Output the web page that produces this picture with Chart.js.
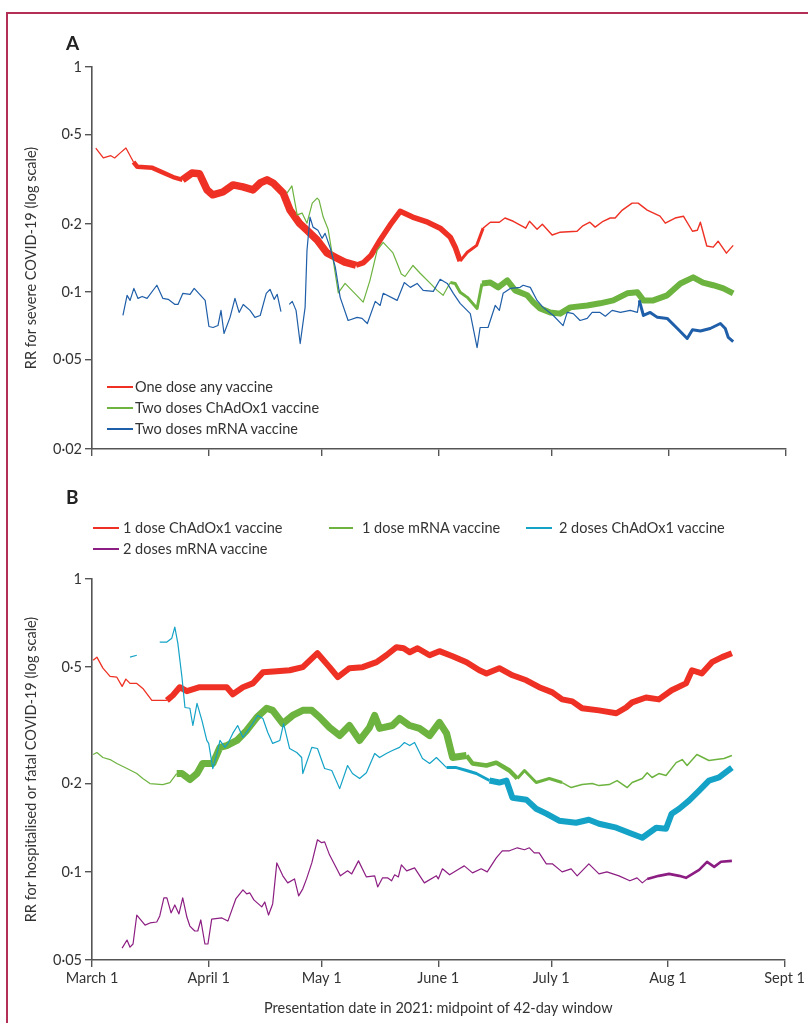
<!DOCTYPE html>
<html>
<head>
<meta charset="utf-8">
<script src="https://cdn.jsdelivr.net/npm/chart.js@4.4.1/dist/chart.umd.min.js"></script>
<style>
  html, body { margin:0; padding:0; background:#fff; }
  body { width:808px; height:1023px; position:relative; overflow:hidden; font-family:Lato, "Open Sans", sans-serif; color:#333; }
  #frame { position:absolute; left:6px; top:12px; width:820px; height:1040px; border-top:2px solid #b32f56; border-left:2px solid #b32f56; }
  canvas { position:absolute; left:0; }
  .panel { position:absolute; font-weight:bold; font-size:19px; color:#222; line-height:20px; }
  .leg { position:absolute; font-size:14.5px; line-height:20px; white-space:nowrap; color:#333; }
  .sw { position:absolute; height:2px; }
</style>
</head>
<body>
<div id="frame"></div>
<canvas id="cA" width="808" height="480" style="top:0"></canvas>
<canvas id="cB" width="808" height="543" style="top:480px"></canvas>

<div class="panel" style="left:66px;top:33px">A</div>
<div class="panel" style="left:66px;top:487px">B</div>

<div class="sw" style="left:107px;top:386px;width:26px;background:#ee3124"></div>
<div class="leg" style="left:135px;top:377px">One dose any vaccine</div>
<div class="sw" style="left:107px;top:407px;width:26px;background:#6db33f"></div>
<div class="leg" style="left:135px;top:398px">Two doses ChAdOx1 vaccine</div>
<div class="sw" style="left:107px;top:428px;width:26px;background:#1f5ea8"></div>
<div class="leg" style="left:135px;top:419px">Two doses mRNA vaccine</div>

<div class="sw" style="left:93px;top:527px;width:26px;background:#ee3124"></div>
<div class="leg" style="left:123px;top:518px">1 dose ChAdOx1 vaccine</div>
<div class="sw" style="left:329px;top:527px;width:24px;background:#6db33f"></div>
<div class="leg" style="left:362px;top:518px">1 dose mRNA vaccine</div>
<div class="sw" style="left:526px;top:527px;width:26px;background:#14a3c7"></div>
<div class="leg" style="left:559px;top:518px">2 doses ChAdOx1 vaccine</div>
<div class="sw" style="left:93px;top:548px;width:26px;background:#8c1d82"></div>
<div class="leg" style="left:123px;top:539px">2 doses mRNA vaccine</div>

<script>
// ---------- DATA (x = days since March 1, 2021; y = rate ratio) ----------
const monthTickDays = [0, 31, 61, 92, 122, 153, 184];
const monthTickLabels = ["March 1", "April 1", "May 1", "June 1", "July 1", "Aug 1", "Sept 1"];
const ticksA = [0.02, 0.05, 0.1, 0.2, 0.5, 1];
const ticksB = [0.05, 0.1, 0.2, 0.5, 1];

// Panel A: severe COVID-19
const oneDoseAny = [[1,0.436],[3,0.394],[5,0.403],[6,0.394],[7.5,0.415],[9,0.436],[11,0.378],[12,0.36],[14,0.358],[16,0.356],[19,0.338],[21.5,0.324],[24,0.315],[26.5,0.338],[28.5,0.335],[30.5,0.284],[32,0.27],[34.7,0.278],[37.4,0.299],[40,0.293],[42.7,0.284],[44.6,0.305],[46.4,0.315],[48,0.305],[50.7,0.275],[52.5,0.231],[55,0.202],[57,0.188],[59.7,0.17],[62.3,0.149],[65,0.141],[67,0.1355],[70,0.1313],[72,0.135],[74,0.1455],[76.4,0.17],[79,0.198],[81.7,0.228],[85,0.215],[89,0.204],[92.3,0.192],[95,0.175],[96.3,0.158],[97.6,0.137],[99.5,0.15],[102,0.161],[103.7,0.192],[105.6,0.204],[108,0.204],[109.5,0.213],[111.7,0.206],[115,0.192],[116,0.206],[118,0.19],[119.4,0.2],[122,0.179],[124,0.184],[128.6,0.186],[130,0.196],[132,0.204],[133.4,0.194],[135.5,0.206],[137.4,0.213],[138.7,0.213],[140.6,0.231],[143.2,0.248],[144.8,0.248],[147.2,0.231],[150.6,0.217],[152,0.202],[154.6,0.213],[156.8,0.217],[159.2,0.186],[160.5,0.188],[161.3,0.204],[163,0.16],[164.7,0.158],[166,0.168],[168.2,0.1486],[170,0.161]];
const twoDosesChAdOx1A = [[51.7,0.275],[53,0.296],[54.4,0.22],[55.7,0.224],[57,0.202],[58.4,0.248],[59.7,0.261],[60.2,0.256],[61.3,0.215],[62.6,0.19],[63.9,0.14],[65.3,0.099],[67.1,0.109],[71.9,0.09],[73.7,0.1125],[75.6,0.153],[77.2,0.166],[79.8,0.149],[80.9,0.134],[82,0.12],[83,0.117],[85.1,0.131],[87,0.121],[89.7,0.109],[91.5,0.1015],[93.1,0.0965],[95,0.11],[96.3,0.109],[97.6,0.0995],[99.5,0.0945],[102.1,0.0844],[103.4,0.109],[105.6,0.11],[107.7,0.1047],[110.1,0.1125],[112.2,0.1015],[115.4,0.0965],[117,0.0898],[118.8,0.0844],[121.5,0.081],[124.1,0.08],[126.8,0.0853],[131.3,0.087],[134.7,0.0889],[138.2,0.0916],[141.9,0.0985],[144.6,0.0995],[146.2,0.0916],[148.8,0.0916],[152.5,0.0965],[156,0.109],[159.4,0.116],[162,0.11],[164.7,0.107],[167.4,0.1036],[170,0.0985]];
const twoDosesMRNAA = [[8.2,0.0785],[9.3,0.0965],[10.1,0.0916],[11.1,0.1036],[12.2,0.0935],[13.3,0.0954],[14.6,0.0935],[17.2,0.107],[18.8,0.0935],[20.2,0.0926],[22,0.0879],[22.8,0.0879],[24.1,0.0985],[26,0.0975],[27.1,0.1036],[30,0.0916],[31,0.0701],[32.1,0.0694],[33.4,0.0708],[34.2,0.0827],[35,0.0653],[36.6,0.077],[37.9,0.0935],[39,0.081],[40.1,0.0879],[41.9,0.0827],[43.2,0.077],[44.6,0.0785],[46.2,0.0985],[47.2,0.1026],[48.3,0.0926],[49.1,0.0975],[50.1,0.0817],[51.2,null],[52.3,0.0879],[53.1,0.0907],[54.1,0.0827],[55.2,0.0589],[56.5,0.0853],[57,0.153],[57.8,0.215],[58.6,0.194],[59.9,0.188],[61,0.173],[61.8,0.182],[63.1,0.158],[64.5,0.1287],[65.8,0.0945],[67.9,0.0746],[70.3,0.077],[71.6,0.0762],[73,0.0723],[75.1,0.0907],[76.4,0.087],[77.2,0.0985],[80.9,0.0916],[82.8,0.11],[84.4,0.1047],[86.2,0.109],[87.8,0.1015],[90.5,0.1005],[92.3,0.1137],[94.2,0.109],[95.8,0.0985],[97.6,0.0889],[100.3,0.08],[102.1,0.0565],[102.9,0.0694],[105,0.0694],[106.9,0.087],[108,0.0827],[109,0.0985],[110.9,0.1036],[113.5,0.1047],[114.3,0.107],[116.2,0.1047],[118,0.0916],[119.6,0.0853],[122.3,0.0785],[124.9,0.0708],[126,0.081],[127.6,0.08],[129.4,0.0746],[131.3,0.0762],[132.6,0.081],[134.7,0.081],[136.1,0.0779],[137.9,0.0827],[140.1,0.081],[142.7,0.0827],[144.6,0.081],[145.1,0.0916],[146.2,0.0785],[148,0.081],[149.9,0.077],[152.5,0.0762],[155.2,0.0687],[157.8,0.062],[159.2,0.0678],[161.3,0.067],[163.9,0.0687],[166.6,0.0723],[167.9,0.0687],[168.7,0.0627],[170,0.0601]];

// Panel B: hospitalised or fatal COVID-19
const oneDoseChAdOx1B = [[0.3,0.528],[1.3,0.541],[2.9,0.496],[4.8,0.465],[6.6,0.462],[8,0.43],[9,0.455],[10.1,0.44],[11.9,0.44],[13.5,0.423],[15.9,0.385],[19.9,0.385],[21.5,0.401],[23.3,0.427],[25.2,0.414],[28.6,0.427],[32.1,0.427],[35.8,0.427],[37.4,0.404],[40.1,0.427],[42.7,0.44],[45.4,0.48],[49.1,0.484],[52.5,0.488],[56,0.5],[59.9,0.558],[63.1,0.5],[65.3,0.462],[68.4,0.496],[71.9,0.5],[75.6,0.52],[78.2,0.549],[80.9,0.585],[82.8,0.58],[84.4,0.562],[86.5,0.58],[89.7,0.549],[92.3,0.567],[95.8,0.545],[99.5,0.52],[102.9,0.488],[104.8,0.476],[108.2,0.496],[111.7,0.469],[115.4,0.451],[118.8,0.427],[122.3,0.41],[124.9,0.388],[127.6,0.382],[130.2,0.362],[134.7,0.356],[139.3,0.348],[141.9,0.364],[143.5,0.379],[147.2,0.394],[150.6,0.388],[154,0.417],[157.8,0.44],[159.4,0.488],[162,0.476],[164.7,0.52],[167.4,0.541],[170,0.558]];
const oneDoseMRNAB = [[0.3,0.2516],[1.3,0.2556],[2.9,0.2457],[4.8,0.2418],[6.6,0.2344],[9.3,0.2253],[11.9,0.2166],[13.5,0.2083],[15.4,0.2002],[18.8,0.1986],[20.7,0.2018],[22.5,0.2166],[23.9,0.2166],[26,0.2066],[27.9,0.2166],[29.4,0.2344],[32.1,0.2344],[34,0.266],[35.8,0.27],[38.5,0.281],[41.1,0.304],[43.8,0.337],[46.4,0.362],[48,0.356],[50.7,0.321],[53.3,0.342],[56,0.356],[58.4,0.356],[60.5,0.337],[63.1,0.311],[65.8,0.292],[68.4,0.316],[71.1,0.281],[73.7,0.311],[75.1,0.342],[76.4,0.309],[79.8,0.316],[81.7,0.334],[84.4,0.316],[87,0.309],[89.7,0.292],[92.3,0.324],[94.2,0.297],[95.8,0.2457],[99.5,0.2496],[101.1,0.2344],[104.8,0.2307],[107.4,0.236],[110.9,0.2218],[113,0.2083],[114.9,0.2218],[118,0.2018],[121.5,0.2083],[124.9,0.2018],[127.3,0.194],[130.2,0.1986],[132.9,0.2002],[134.7,0.197],[137.4,0.1986],[139.5,0.205],[142.2,0.194],[143.5,0.2018],[146.2,0.2083],[147.5,0.218],[148.8,0.21],[150.6,0.2166],[152.5,0.2132],[155.2,0.236],[156.8,0.2418],[158.1,0.2307],[160.7,0.2516],[163.9,0.24],[165.8,0.2418],[167.9,0.2438],[170,0.2496]];
const twoDosesChAdOx1B = [[10.1,0.541],[11.9,0.549],[15,null],[18,0.609],[19.9,0.609],[21.2,0.628],[22,0.685],[22.8,0.604],[23.9,0.462],[24.7,0.364],[26,0.362],[26.8,0.316],[27.9,0.376],[29.2,0.329],[30.5,0.281],[31,0.2745],[32.1,0.2253],[33.2,0.2536],[34,0.281],[35.3,0.266],[36.1,0.2745],[37.4,0.297],[38.7,0.316],[40.1,0.2876],[41.4,0.304],[42.7,0.321],[44,0.342],[45.4,0.334],[46.7,0.299],[48,0.2745],[49.9,0.281],[50.9,0.321],[52.5,0.2637],[54.4,0.2556],[55.7,0.2457],[56,0.2166],[58.4,0.266],[59.9,0.2637],[61.8,0.2253],[63.7,0.2218],[65.8,0.1924],[67.9,0.2307],[69.2,0.2166],[71.1,0.2083],[72.9,0.218],[75.1,0.2536],[76.4,0.2457],[78.2,0.2536],[79.8,0.2596],[81.7,0.266],[83,0.2765],[84.4,0.27],[85.7,0.2765],[87.8,0.2438],[89.7,0.2344],[91.5,0.2457],[94.2,0.227],[96.8,0.227],[99.5,0.2218],[102.1,0.2166],[105.6,0.205],[108.2,0.2018],[110.1,0.205],[111.7,0.1792],[115.4,0.1764],[118,0.1643],[120.7,0.158],[124.1,0.1495],[128.6,0.1471],[132,0.1506],[134.7,0.146],[139.3,0.1415],[142.7,0.136],[146.2,0.1307],[149.9,0.1415],[152.5,0.1404],[154,0.158],[156,0.1643],[158.6,0.175],[161.3,0.1894],[163.9,0.205],[166.6,0.21],[170,0.227]];
const twoDosesMRNAB = [[8,0.0549],[9.3,0.0585],[10.1,0.0553],[10.9,0.0567],[11.9,0.0712],[14.1,0.0658],[15.4,0.0669],[17.2,0.0674],[18,0.0707],[19.1,0.0815],[19.9,0.0815],[21,0.0724],[22,0.0771],[23.1,0.0718],[24.1,0.0815],[25.2,0.0701],[26,0.0653],[27.3,0.0628],[28.1,0.0628],[28.9,0.0685],[30,0.0567],[30.8,0.0567],[31.8,0.069],[34.5,0.0696],[36.1,0.0679],[38.2,0.0808],[40.1,0.0868],[41.1,0.0841],[41.9,0.0848],[43,0.0802],[45.1,0.0759],[45.9,0.0789],[46.9,0.0712],[48,0.0777],[49.1,0.1073],[50.7,0.0969],[52,0.0917],[53.8,0.0946],[54.9,0.0828],[56,0.0875],[57,0.0946],[58.4,0.1073],[59.9,0.1287],[61,0.1258],[61.8,0.1266],[63.1,0.1143],[65.3,0.1008],[66,0.0969],[67.9,0.1008],[69,0.0984],[70.8,0.109],[72.9,0.0961],[75.1,0.0969],[75.9,0.0888],[77.2,0.0954],[78.5,0.0954],[79.6,0.0932],[80.4,0.0977],[81.4,0.0961],[82.2,0.1057],[83.6,0.1008],[85.7,0.1032],[88.3,0.0917],[91.5,0.0969],[92,0.0946],[93.1,0.1024],[95,0.0977],[97.6,0.1024],[98.9,0.1048],[101.1,0.0992],[103.4,0.1024],[105,0.1],[107.4,0.1116],[109,0.118],[110.9,0.118],[113,0.1208],[114.9,0.119],[116.2,0.1208],[117.5,0.1161],[118.8,0.1161],[120.7,0.1065],[122.3,0.1065],[124.9,0.1],[127.3,0.1024],[128.9,0.0969],[132,0.1065],[134.7,0.0984],[136.8,0.1],[140,0.0969],[142.9,0.0932],[144.8,0.0954],[146.2,0.0917],[147.5,0.0946],[150.6,0.0969],[153.3,0.0984],[156,0.0969],[157.8,0.0954],[161.3,0.1016],[163.4,0.1082],[165.3,0.104],[167.1,0.1082],[170,0.109]];

// ---------- STYLE: line width bands by day range [from, to, width] ----------
const bands = {
  redA:   [[0,11,1.3],[11,25,4.5],[25,70,7.5],[70,97,5.5],[97,104,3],[104,999,1.4]],
  greenA: [[0,95,1.2],[95,103,3],[103,999,6]],
  blueA:  [[0,145.5,1.2],[145.5,999,3]],
  redB:   [[0,20,1.3],[20,999,6]],
  greenB: [[0,22,1.2],[22,100,7],[100,113,4.5],[113,126,3],[126,999,1.5]],
  cyanB:  [[0,94,1.2],[94,104,3],[104,999,6]],
  purpleB:[[0,147,1.2],[147,999,2.6]]
};
const COLORS = { red:'#ee3124', green:'#6db33f', blue:'#1f5ea8', cyan:'#14a3c7', purple:'#8c1d82' };

Chart.defaults.font.family = 'Lato, "Open Sans", sans-serif';
Chart.defaults.font.size = 14.5;
Chart.defaults.color = '#333';

function widthAt(b, x) { for (const r of b) if (x >= r[0] && x < r[1]) return r[2]; return 1.2; }
function ds(label, pts, color, b) {
  return {
    label, data: pts.map(p => ({x:p[0], y:p[1]})),
    borderColor: color, backgroundColor: color, pointRadius: 0, tension: 0,
    borderWidth: 1.3, spanGaps: false, borderJoinStyle: 'round', borderCapStyle: 'butt',
    segment: { borderWidth: ctx => widthAt(b, (ctx.p0.parsed.x + ctx.p1.parsed.x) / 2) }
  };
}
const fmt = v => String(v).replace('.', '\u00B7');
const axisCol = '#555';

function makeOptions(yMin, yMax, yTicks, yTitle, showX, xH) {
  return {
    responsive: false, animation: false, devicePixelRatio: 1,
    layout: { padding: { left: 0, right: 22, top: showX ? 99 : 67, bottom: 0 } },
    plugins: { legend: { display: false }, tooltip: { enabled: false } },
    scales: {
      x: {
        type: 'linear', min: 0, max: 184,
        afterBuildTicks: s => { s.ticks = monthTickDays.map(v => ({ value: v })); },
        afterFit: s => { s.height = xH; },
        ticks: { autoSkip: false, maxRotation: 0, padding: 3, color: '#333',
                 callback: (v) => showX ? monthTickLabels[monthTickDays.indexOf(v)] : '' },
        grid: { drawOnChartArea: false, drawTicks: true, tickLength: 7, color: axisCol, lineWidth: 1.4 },
        border: { display: true, color: axisCol, width: 1.6 },
        title: { display: showX, text: 'Presentation date in 2021: midpoint of 42-day window',
                 color: '#333', padding: { top: 4, bottom: 6 } }
      },
      y: {
        type: 'logarithmic', min: yMin, max: yMax,
        afterBuildTicks: s => { s.ticks = yTicks.map(v => ({ value: v })); },
        afterFit: s => { s.width = 92; },
        ticks: { autoSkip: false, padding: 3, color: '#333', callback: v => fmt(v) },
        grid: { drawOnChartArea: false, drawTicks: true, tickLength: 7, color: axisCol, lineWidth: 1.4 },
        border: { display: true, color: axisCol, width: 1.6 },
        title: { display: true, text: yTitle, color: '#333', padding: { top: 23, bottom: 0 } }
      }
    }
  };
}

new Chart(document.getElementById('cA'), {
  type: 'line',
  data: { datasets: [
    ds('Two doses mRNA vaccine', twoDosesMRNAA, COLORS.blue, bands.blueA),
    ds('Two doses ChAdOx1 vaccine', twoDosesChAdOx1A, COLORS.green, bands.greenA),
    ds('One dose any vaccine', oneDoseAny, COLORS.red, bands.redA)
  ]},
  options: makeOptions(0.02, 1, ticksA, 'RR for severe COVID-19 (log scale)', false, 31)
});

new Chart(document.getElementById('cB'), {
  type: 'line',
  data: { datasets: [
    ds('2 doses mRNA vaccine', twoDosesMRNAB, COLORS.purple, bands.purpleB),
    ds('2 doses ChAdOx1 vaccine', twoDosesChAdOx1B, COLORS.cyan, bands.cyanB),
    ds('1 dose mRNA vaccine', oneDoseMRNAB, COLORS.green, bands.greenB),
    ds('1 dose ChAdOx1 vaccine', oneDoseChAdOx1B, COLORS.red, bands.redB)
  ]},
  options: makeOptions(0.05, 1, ticksB, 'RR for hospitalised or fatal COVID-19 (log scale)', true, 63)
});
</script>
</body>
</html>
